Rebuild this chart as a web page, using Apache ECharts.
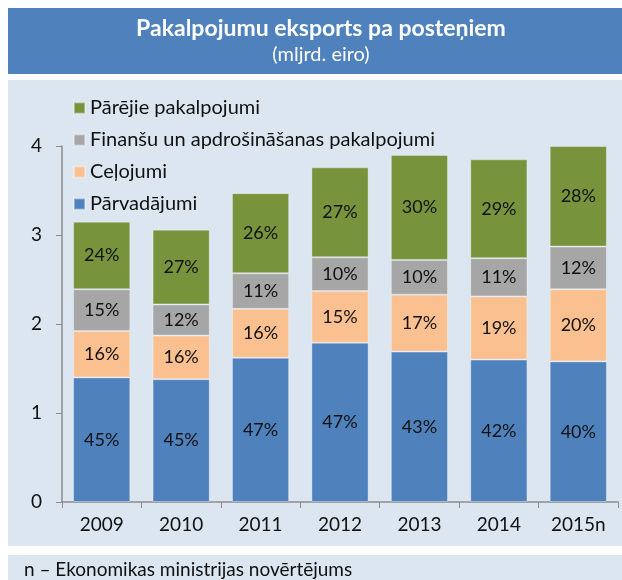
<!DOCTYPE html>
<html>
<head>
<meta charset="utf-8">
<script src="https://cdn.jsdelivr.net/npm/echarts@6/dist/echarts.min.js"></script>
<style>
  html, body { margin: 0; padding: 0; background: #fff; }
  #chart { width: 622px; height: 580px; }
</style>
</head>
<body>
<div id="chart"></div>
<script>
/* global echarts */
const years = ["2009", "2010", "2011", "2012", "2013", "2014", "2015n"];

// segment values, mljrd. eiro
const transport = [1.40, 1.38, 1.62, 1.79, 1.69, 1.60, 1.58];
const travel    = [0.52, 0.49, 0.55, 0.58, 0.64, 0.71, 0.81];
const finance   = [0.47, 0.35, 0.40, 0.38, 0.39, 0.43, 0.48];
const other     = [0.76, 0.84, 0.90, 1.01, 1.18, 1.11, 1.13];

// shares printed inside the bars
const transportPct = [45, 45, 47, 47, 43, 42, 40];
const travelPct    = [16, 16, 16, 15, 17, 19, 20];
const financePct   = [15, 12, 11, 10, 10, 11, 12];
const otherPct     = [24, 27, 26, 27, 30, 29, 28];

const yTicks = [0, 1, 2, 3, 4];

const font = "Lato, 'Open Sans', sans-serif";
const panel = "#dce6f1";

function series(name, values, pcts, color) {
  return {
    name: name,
    type: "bar",
    stack: "total",
    barWidth: "72%",
    data: values,
    itemStyle: { color: color, borderColor: "rgba(255,255,255,0.35)", borderWidth: 1 },
    label: {
      show: true,
      position: "inside",
      color: "#111",
      fontFamily: font,
      fontSize: 18,
      formatter: p => pcts[p.dataIndex] + "%"
    }
  };
}

const chart = echarts.init(document.getElementById("chart"));
chart.setOption({
  animation: false,
  textStyle: { fontFamily: font },
  graphic: [
    { type: "rect", z: -10, shape: { x: 8, y: 8, width: 614, height: 66 }, style: { fill: "#4f81bd" } },
    { type: "rect", z: -10, shape: { x: 8, y: 80, width: 614, height: 466 }, style: { fill: panel } },
    { type: "rect", z: -10, shape: { x: 8, y: 555, width: 614, height: 25 }, style: { fill: panel } },
    {
      type: "text", x: 321, y: 17,
      style: { text: "Pakalpojumu eksports pa posteņiem", fill: "#fff", font: "bold 23px " + font, textAlign: "center" }
    },
    {
      type: "text", x: 321, y: 45,
      style: { text: "(mljrd. eiro)", fill: "#fff", font: "20px " + font, textAlign: "center" }
    },
    {
      type: "text", left: 24, top: 560,
      style: { text: "n – Ekonomikas ministrijas novērtējums", fill: "#111", font: "19px " + font }
    }
  ],
  legend: {
    left: 68,
    top: 93,
    orient: "vertical",
    itemWidth: 11,
    itemHeight: 11,
    itemGap: 12,
    icon: "rect",
    data: ["Pārējie pakalpojumi", "Finanšu un apdrošināšanas pakalpojumi", "Ceļojumi", "Pārvadājumi"],
    textStyle: { fontSize: 20, color: "#111", fontFamily: font }
  },
  grid: { left: 62, right: 4, top: 146, bottom: 78 },
  xAxis: {
    type: "category",
    data: years,
    axisLine: { lineStyle: { color: "#8c8c8c", width: 1.5 } },
    axisTick: { show: true, length: 6, lineStyle: { color: "#8c8c8c" } },
    axisLabel: { color: "#111", fontSize: 19, margin: 13, fontFamily: font }
  },
  yAxis: {
    type: "value",
    min: 0,
    max: 4,
    interval: 1,
    axisLine: { show: true, lineStyle: { color: "#8c8c8c", width: 1.5 } },
    axisTick: { show: true, length: 6, lineStyle: { color: "#8c8c8c" } },
    splitLine: { show: false },
    axisLabel: {
      color: "#111", fontSize: 19, margin: 20, fontFamily: font,
      formatter: v => (yTicks.includes(v) ? String(v) : "")
    }
  },
  series: [
    series("Pārvadājumi", transport, transportPct, "#4f81bd"),
    series("Ceļojumi", travel, travelPct, "#fac090"),
    series("Finanšu un apdrošināšanas pakalpojumi", finance, financePct, "#a6a6a6"),
    series("Pārējie pakalpojumi", other, otherPct, "#77933c")
  ]
});
</script>
</body>
</html>
